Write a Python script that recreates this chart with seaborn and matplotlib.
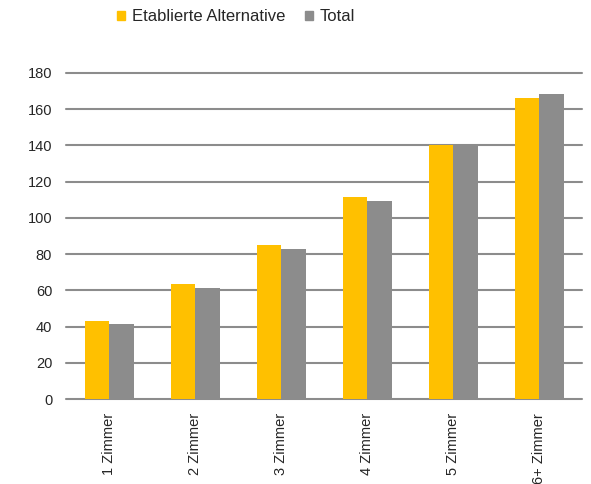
import pandas as pd
import seaborn as sns
import matplotlib.pyplot as plt
import matplotlib.ticker as ticker

categories = ['1 Zimmer', '2 Zimmer', '3 Zimmer', '4 Zimmer', '5 Zimmer', '6+ Zimmer']
etablierte = [42.8, 63.4, 84.8, 111.7, 140.4, 165.9]
total = [41.2, 61.5, 82.9, 109.4, 140.3, 168.3]
series_names = ['Etablierte Alternative', 'Total']
colors = ['#FFC000', '#8C8C8C']

sns.set_style('white')
plt.rcParams['font.family'] = ['Liberation Sans', 'DejaVu Sans']

df = pd.DataFrame({
    'kategorie': categories * 2,
    'wert': etablierte + total,
    'serie': [series_names[0]] * len(categories) + [series_names[1]] * len(categories),
})

fig = plt.figure(figsize=(5.91, 4.84), dpi=100)
ax = fig.add_axes([0.1117, 0.1756, 0.8735, 0.674])

sns.barplot(data=df, x='kategorie', y='wert', hue='serie', order=categories,
            hue_order=series_names, palette=colors, width=0.57, gap=0,
            saturation=1, linewidth=0, ax=ax, legend=False)

ax.set_ylim(0, 180)
ax.set_xlim(-0.5, 5.5)
ax.yaxis.set_major_locator(ticker.MultipleLocator(20))
ax.grid(axis='y', color='#8C8C8C', linewidth=1.5)
for gl in ax.get_ygridlines():
    gl.set_clip_on(False)
ax.set_axisbelow(True)
for s in ax.spines.values():
    s.set_visible(False)
ax.set_xlabel('')
ax.set_ylabel('')
ax.tick_params(axis='y', length=0, pad=10, labelsize=10.5)
ax.tick_params(axis='x', length=0, pad=10, labelsize=10.5)
plt.setp(ax.get_xticklabels(), rotation=90, va='top', ha='center')

# legend on top
handles = [plt.Rectangle((0, 0), 1, 1, color=c) for c in colors]
fig.legend(handles, series_names, loc='center left', bbox_to_anchor=(0.198, 0.965), ncol=2,
           frameon=False, fontsize=12, handlelength=0.5, handleheight=0.5,
           handletextpad=0.37, columnspacing=1.2, borderpad=0, borderaxespad=0)

fig.savefig('out.png', dpi=100)
